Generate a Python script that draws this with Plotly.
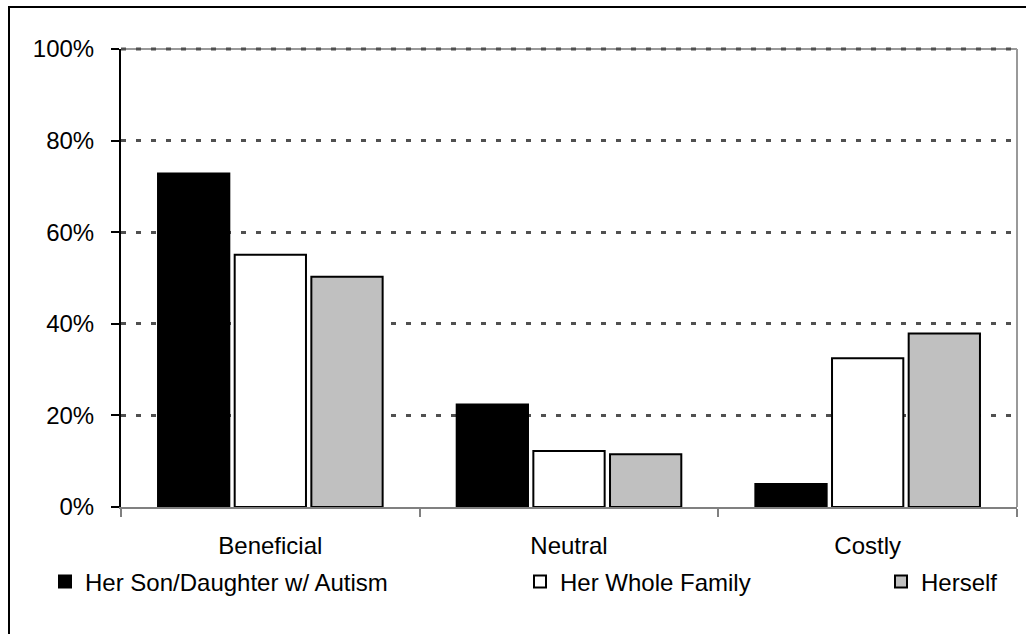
import plotly.graph_objects as go

categories = ["Beneficial", "Neutral", "Costly"]
son_daughter = [0.728, 0.224, 0.050]
whole_family = [0.551, 0.122, 0.325]
herself = [0.503, 0.115, 0.379]
series_names = ["Her Son/Daughter w/ Autism", "Her Whole Family", "Herself"]
series_colors = ["#000000", "#FFFFFF", "#C0C0C0"]
y_tick_vals = [0, 0.2, 0.4, 0.6, 0.8, 1.0]
y_tick_text = ["0%", "20%", "40%", "60%", "80%", "100%"]

W, H = 1026, 634
L, R, T, B = 121, 9, 49, 127
pw, ph = W - L - R, H - T - B

FONT = "Liberation Sans, Arial, sans-serif"

fig = go.Figure()
legend_ids = ["legend", "legend2", "legend3"]
for vals, name, col, lg in zip([son_daughter, whole_family, herself], series_names, series_colors, legend_ids):
    fig.add_trace(go.Bar(
        x=categories, y=vals, name=name, legend=lg,
        marker=dict(color=col, line=dict(color="#000000", width=2)),
        hoverinfo="skip",
    ))

legend_left_px = [45, 520, 881]
legend_common = dict(
    orientation="h", xref="container", yref="container",
    yanchor="middle", xanchor="left", y=1 - 582 / H,
    font=dict(family=FONT, size=24, color="#000000"),
    bgcolor="rgba(0,0,0,0)", borderwidth=0, itemwidth=30,
)
fig.update_layout(
    legend=dict(x=legend_left_px[0] / W, **legend_common),
    legend2=dict(x=legend_left_px[1] / W, **legend_common),
    legend3=dict(x=legend_left_px[2] / W, **legend_common),
)

fig.update_layout(
    width=W, height=H,
    margin=dict(l=L, r=R, t=T, b=B, autoexpand=False),
    paper_bgcolor="#FFFFFF", plot_bgcolor="#FFFFFF",
    barmode="group", bargap=0.23, bargroupgap=0.07,
    showlegend=True,
    font=dict(family=FONT, size=24, color="#000000"),
)

fig.update_xaxes(
    type="category",
    showline=True, linecolor="#808080", linewidth=2,
    ticks="outside", tickson="boundaries", ticklen=8, tickwidth=2, tickcolor="#808080",
    showgrid=False, ticklabelstandoff=16,
    tickfont=dict(family=FONT, size=24, color="#000000"),
)
fig.update_yaxes(
    range=[0, 1], tickvals=y_tick_vals, ticktext=y_tick_text,
    showline=True, linecolor="#000000", linewidth=2,
    ticks="outside", ticklen=8, tickwidth=2, tickcolor="#000000",
    showgrid=True, gridcolor="#505050", gridwidth=3, griddash="5px,10px",
    zeroline=False, ticklabelstandoff=12,
    tickfont=dict(family=FONT, size=24, color="#000000"),
)

# plot-area top and right borders (gray)
fig.add_shape(type="line", xref="paper", yref="paper", x0=0, x1=1, y0=1, y1=1,
              line=dict(color="#999999", width=2), layer="below")
fig.add_shape(type="line", xref="paper", yref="paper", x0=0, x1=1, y0=1, y1=1,
              line=dict(color="#505050", width=3, dash="5px,10px"), layer="below")
fig.add_shape(type="line", xref="paper", yref="paper", x0=1, x1=1, y0=0, y1=1,
              line=dict(color="#999999", width=2), layer="below")

# outer chart frame (cropped at right and bottom)
fx0 = (9 - L) / pw
fx1 = (W + 10 - L) / pw
fy1 = 1 + (T - 7) / ph
fy0 = -(H + 10 - (T + ph)) / ph
fig.add_shape(type="rect", xref="paper", yref="paper", x0=fx0, x1=fx1, y0=fy0, y1=fy1,
              line=dict(color="#000000", width=2), fillcolor="rgba(0,0,0,0)", layer="above")

fig.write_html("out.html")
